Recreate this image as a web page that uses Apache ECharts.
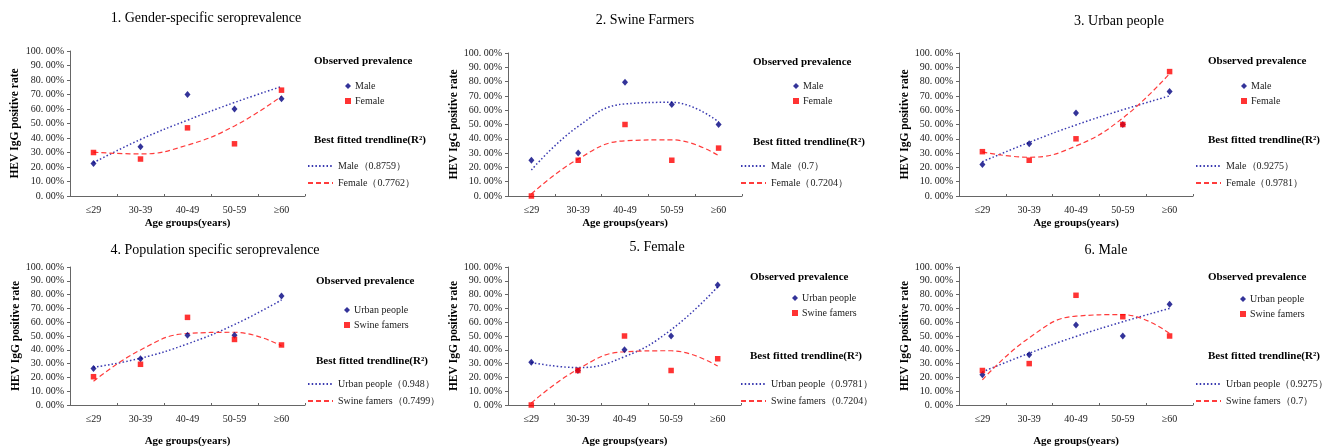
<!DOCTYPE html>
<html><head><meta charset="utf-8">
<script src="https://cdn.jsdelivr.net/npm/echarts@6/dist/echarts.min.js"></script>
<style>html,body{margin:0;padding:0;background:#fff}#c{width:1336px;height:448px}</style>
</head><body><div id="c"></div>
<script>
const categories = ['≤29', '30-39', '40-49', '50-59', '≥60'];
const yTickLabels = ['0. 00%','10. 00%','20. 00%','30. 00%','40. 00%','50. 00%','60. 00%','70. 00%','80. 00%','90. 00%','100. 00%'];

// observed prevalence (%)
const maleAll = [22.5, 34, 70, 60, 67];
const femaleAll = [30, 25.5, 47, 36, 73];
const maleSwine = [25, 30, 79.5, 64, 50];
const femaleSwine = [0, 25, 50, 25, 33.5];
const maleUrban = [22, 36.5, 58, 50, 73];
const femaleUrban = [31, 25, 40, 50, 87];
const urbanAll = [26.5, 33.5, 50.5, 50.5, 79];
const swineAll = [20.5, 29.5, 63.5, 47.5, 43.5];

// fitted trendline values read at each age group (%)
const maleAllTrend = [23, 39, 52.3, 64.5, 75.5];
const femaleAllTrend = [30.2, 29, 35.1, 48.3, 68.8];
const maleSwineTrend = [18.2, 48.7, 64.4, 65.5, 51.8];
const femaleSwineTrend = [1.4, 25.9, 38.6, 39.3, 28.2];
const maleUrbanTrend = [24, 37.5, 49.7, 60.3, 70];
const femaleUrbanTrend = [30.8, 27.1, 35, 54.5, 85.6];
const urbanAllTrend = [27.3, 33.9, 44.3, 58.3, 76.1];
const swineAllTrend = [17.2, 39.9, 51.8, 52.7, 42.8];

const panelTitles = ['1. Gender-specific seroprevalence', '2. Swine Farmers', '3. Urban people',
  '4. Population specific seroprevalence', '5. Female', '6. Male'];
const scatterNames = [['Male','Female'],['Male','Female'],['Male','Female'],
  ['Urban people','Swine famers'],['Urban people','Swine famers'],['Urban people','Swine famers']];
const trendNames = [['Male（0.8759）','Female（0.7762）'],['Male（0.7）','Female（0.7204）'],['Male（0.9275）','Female（0.9781）'],
  ['Urban people（0.948）','Swine famers（0.7499）'],['Urban people（0.9781）','Swine famers（0.7204）'],['Urban people（0.9275）','Swine famers（0.7）']];
const observed = [[maleAll,femaleAll],[maleSwine,femaleSwine],[maleUrban,femaleUrban],
  [urbanAll,swineAll],[femaleUrban,femaleSwine],[maleUrban,maleSwine]];
const trends = [[maleAllTrend,femaleAllTrend],[maleSwineTrend,femaleSwineTrend],[maleUrbanTrend,femaleUrbanTrend],
  [urbanAllTrend,swineAllTrend],[femaleUrbanTrend,femaleSwineTrend],[maleUrbanTrend,maleSwineTrend]];

// layout
const grids = [
  {left:70, top:51, width:235, height:145},
  {left:508, top:53, width:234, height:143},
  {left:959, top:53, width:234, height:143},
  {left:70, top:267, width:235, height:146},
  {left:508, top:267, width:233, height:144},
  {left:959, top:267, width:234, height:144}
];
const titlePos = [[206,18],[645,20],[1119,21],[215,250],[657,247],[1106,250]];
const headPos = [[314,61,140],[753,62,142],[1208,61,140],[316,281,361],[750,277,356],[1208,277,356]];
const legA = [[345,80],[793,80],[1241,80],[344,304],[792,292],[1240,293]];
const legB = [[307,160],[740,160],[1195,160],[307,378],[740,378],[1195,378]];
const yNameGap = [49,47,47,48,47,46];
const xNameGap = [22,22,22,31,31,31];

const SERIF = 'Liberation Serif';
const BLUE = '#000080', LBLUE = '#3838b0', RED = '#ff0000', LRED = '#ff3b3b';

const option = {
  animation:false, backgroundColor:'#fff',
  grid:[], xAxis:[], yAxis:[], series:[], legend:[], graphic:[]
};
for (let i = 0; i < 6; i++) {
  option.grid.push(Object.assign({containLabel:false}, grids[i]));
  option.xAxis.push({
    type:'category', gridIndex:i, data:categories, boundaryGap:true,
    name:'Age groups(years)', nameLocation:'middle', nameGap:xNameGap[i],
    nameTextStyle:{fontFamily:SERIF, fontWeight:'bold', fontSize:11, color:'#000'},
    axisLine:{lineStyle:{color:'#666', width:1}},
    axisTick:{show:true, inside:true, length:2, lineStyle:{color:'#666'}},
    axisLabel:{fontFamily:SERIF, fontSize:10, color:'#222', margin:9},
    splitLine:{show:false}
  });
  option.yAxis.push({
    type:'value', gridIndex:i, min:0, max:100, interval:10,
    name:'HEV IgG positive rate', nameLocation:'middle', nameGap:yNameGap[i], nameRotate:90,
    nameTextStyle:{fontFamily:SERIF, fontWeight:'bold', fontSize:11.5, color:'#000'},
    axisLine:{show:true, lineStyle:{color:'#666', width:1}},
    axisTick:{show:true, length:3, lineStyle:{color:'#666'}},
    axisLabel:{fontFamily:SERIF, fontSize:10, color:'#222', margin:6,
      formatter:(v)=>yTickLabels[Math.round(v/10)]},
    splitLine:{show:false}
  });
  // trendlines
  option.series.push({
    type:'line', name:trendNames[i][0], xAxisIndex:i, yAxisIndex:i, data:trends[i][0],
    smooth:0.45, symbol:'none', showSymbol:false, z:2, itemStyle:{color:LBLUE},
    lineStyle:{color:LBLUE, width:1.5, type:[1.5,2.2]}
  });
  option.series.push({
    type:'line', name:trendNames[i][1], xAxisIndex:i, yAxisIndex:i, data:trends[i][1],
    smooth:0.45, symbol:'none', showSymbol:false, z:2, itemStyle:{color:LRED},
    lineStyle:{color:LRED, width:1.2, type:[5,3]}
  });
  // observed
  option.series.push({
    type:'scatter', name:scatterNames[i][0], xAxisIndex:i, yAxisIndex:i, data:observed[i][0],
    symbol:'diamond', symbolSize:[6,7], itemStyle:{color:BLUE}, z:5
  });
  option.series.push({
    type:'scatter', name:scatterNames[i][1], xAxisIndex:i, yAxisIndex:i, data:observed[i][1],
    symbol:'rect', symbolSize:5.5, itemStyle:{color:RED}, z:5
  });
  option.legend.push({
    left:legA[i][0], top:legA[i][1], orient:'vertical', itemWidth:6, itemHeight:6, itemGap:3,
    selectedMode:false, padding:0,
    data:[{name:scatterNames[i][0], icon:'diamond'},{name:scatterNames[i][1], icon:'rect'}],
    textStyle:{fontFamily:SERIF, fontSize:10, color:'#222', lineHeight:12, padding:[0,0,0,-1]}
  });
  option.legend.push({
    left:legB[i][0], top:legB[i][1], orient:'vertical', itemWidth:25, itemHeight:12, itemGap:5,
    selectedMode:false, padding:0, itemStyle:{opacity:0, borderWidth:0},
    data:[trendNames[i][0], trendNames[i][1]],
    textStyle:{fontFamily:SERIF, fontSize:10, color:'#222', lineHeight:12}
  });
  option.graphic.push({
    type:'text', x:titlePos[i][0], y:titlePos[i][1],
    style:{text:panelTitles[i], fontFamily:SERIF, fontSize:14, fill:'#000', textAlign:'center', textVerticalAlign:'middle'}
  });
  option.graphic.push({
    type:'text', x:headPos[i][0], y:headPos[i][1],
    style:{text:'Observed prevalence', fontFamily:SERIF, fontWeight:'bold', fontSize:11, fill:'#000', textAlign:'left', textVerticalAlign:'middle'}
  });
  option.graphic.push({
    type:'text', x:headPos[i][0], y:headPos[i][2],
    style:{text:'Best fitted trendline(R²)', fontFamily:SERIF, fontWeight:'bold', fontSize:11, fill:'#000', textAlign:'left', textVerticalAlign:'middle'}
  });
}
const chart = echarts.init(document.getElementById('c'), null, {renderer:'canvas'});
chart.setOption(option);
</script></body></html>
